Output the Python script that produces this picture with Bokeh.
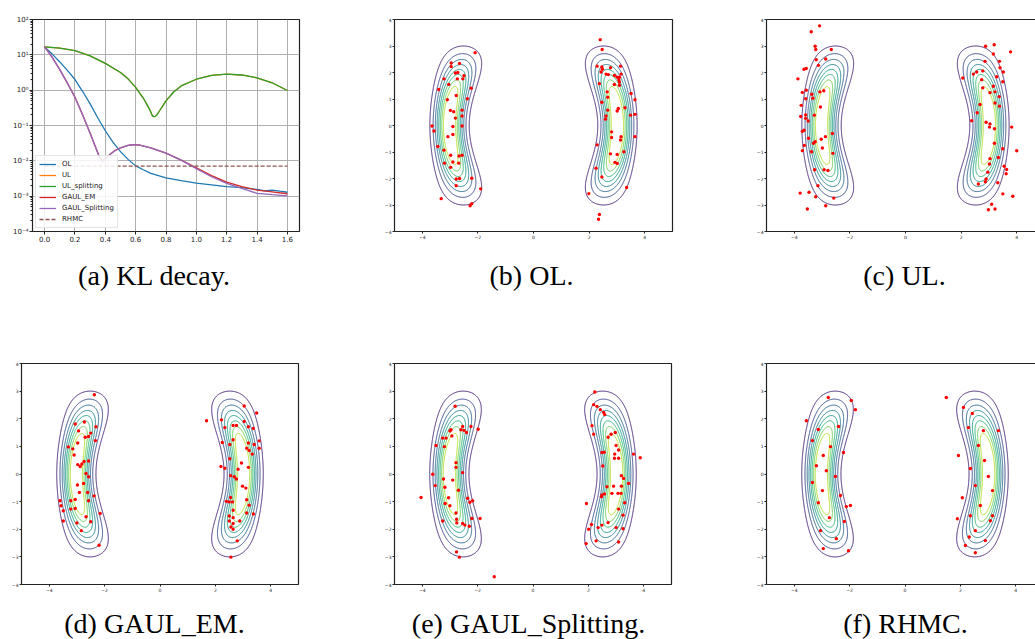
import numpy as np
from bokeh.plotting import figure
from bokeh.layouts import column, row
from bokeh.models import Range1d, FixedTicker, CustomJSTickFormatter, Legend, LegendItem, LinearAxis
from bokeh.core.properties import value
from bokeh.palettes import Viridis256
from bokeh.embed import file_html
from bokeh.resources import INLINE

# ---------------- panel (a): KL decay ----------------
ol_t = [0, 0.05, 0.1, 0.15, 0.2, 0.25, 0.3, 0.35, 0.4, 0.45, 0.5, 0.55, 0.6, 0.65, 0.7, 0.8, 0.9,
        1.0, 1.1, 1.2, 1.3, 1.4, 1.45, 1.5, 1.55, 1.6]
ol_kl = [16.8, 10.5, 6.3, 3.63, 2.0, 0.93, 0.41, 0.166, 0.071, 0.034, 0.0182, 0.0110, 0.0072, 0.0056,
         0.0044, 0.0033, 0.00275, 0.00234, 0.00209, 0.00186, 0.00174, 0.00155, 0.00141, 0.00148,
         0.00138, 0.00129]
ul_t = [0, 0.1, 0.2, 0.3, 0.4, 0.5, 0.55, 0.6, 0.65, 0.68, 0.7, 0.71, 0.72, 0.73, 0.74, 0.76, 0.8,
        0.85, 0.9, 1.0, 1.1, 1.2, 1.3, 1.4, 1.5, 1.6]
ul_kl = [16.8, 15.5, 13.2, 9.3, 5.75, 3.16, 2.09, 1.20, 0.60, 0.355, 0.24, 0.19, 0.178, 0.182, 0.20,
         0.27, 0.50, 0.89, 1.32, 2.04, 2.63, 2.85, 2.69, 2.24, 1.62, 0.98]
uls_kl = [16.8, 15.5, 13.2, 9.3, 5.75, 3.16, 2.09, 1.20, 0.60, 0.355, 0.24, 0.19, 0.178, 0.182, 0.20,
          0.27, 0.50, 0.89, 1.32, 2.04, 2.63, 2.85, 2.69, 2.24, 1.62, 0.98]
gaul_t = [0, 0.05, 0.1, 0.15, 0.2, 0.25, 0.3, 0.33, 0.36, 0.38, 0.4, 0.43, 0.46, 0.5, 0.55, 0.58,
          0.62, 0.7, 0.8, 0.9, 1.0, 1.1, 1.2, 1.3, 1.4, 1.5, 1.6]
gaul_em_kl = [16.8, 8.5, 3.8, 1.58, 0.63, 0.2, 0.060, 0.028, 0.0132, 0.0100, 0.0112, 0.0151, 0.0191,
              0.0234, 0.0275, 0.0285, 0.0282, 0.0234, 0.0166, 0.0105, 0.0063, 0.0038, 0.0025,
              0.00186, 0.00148, 0.00132, 0.00117]
gaul_sp_kl = [16.8, 8.5, 3.8, 1.58, 0.63, 0.2, 0.060, 0.028, 0.0130, 0.0095, 0.0110, 0.0150, 0.0190,
              0.0234, 0.0275, 0.0285, 0.0282, 0.0234, 0.0166, 0.0105, 0.0060, 0.00355, 0.00229,
              0.00166, 0.0012, 0.0011, 0.00102]
rhmc_t = [0, 1.6]
rhmc_kl = [0.0071, 0.0071]
a_xticks = [0, 0.2, 0.4, 0.6, 0.8, 1.0, 1.2, 1.4, 1.6]
a_yticks = [1e-4, 1e-3, 1e-2, 1e-1, 1e0, 1e1, 1e2]

# ---------------- sample scatter points (b)-(f) ----------------
b_x = [-2.10, -2.96, -2.66, -2.96, -3.22, -2.81, -2.72, -2.50, -2.74, -2.54, -3.41, -3.05, -2.24,
       -3.10, -2.38, -2.78, -2.99, -2.87, -2.57, -2.81, -2.57, -3.65, -3.58, -2.57, -2.90, -3.08,
       -2.90, -3.44, -3.22, -2.98, -2.57, -2.68, -3.20, -2.90, -2.69, -2.98, -2.22, -2.78, -2.66,
       -2.78, -1.90, -3.32, -2.22, -2.28,
       2.40, 2.47, 2.29, 2.46, 2.48, 2.43, 3.13, 2.77, 2.61, 2.69, 2.91, 3.01, 3.15, 3.09, 3.07,
       3.09, 2.37, 2.91, 3.09, 3.51, 3.65, 2.65, 2.67, 2.46, 2.67, 3.05, 3.01, 3.29, 2.61, 2.59,
       3.65, 3.49, 2.81, 2.81, 3.15, 3.13, 3.65, 2.29, 2.77, 3.01, 3.25, 2.93, 3.01, 2.25, 2.46,
       1.99, 3.35, 2.37, 2.34]
b_y = [2.75, 2.36, 2.34, 2.22, 1.76, 1.98, 2.00, 1.88, 1.76, 1.76, 1.36, 1.55, 1.41, 0.97, 1.01,
       1.13, 0.57, 0.52, 0.58, 0.28, 0.36, -0.02, -0.21, -0.02, -0.04, -0.42, -0.34, -0.79, -0.93,
       -1.12, -1.12, -1.15, -1.42, -1.38, -1.42, -1.58, -1.99, -2.02, -2.00, -2.27, -2.39, -2.76,
       -2.95, -3.03,
       3.24, 2.87, 2.24, 2.21, 2.12, 2.02, 2.24, 2.18, 1.94, 1.92, 1.89, 1.82, 1.94, 1.82, 1.72,
       1.64, 1.58, 1.55, 1.52, 1.21, 0.97, 1.27, 1.07, 0.88, 0.58, 0.64, 0.55, 0.67, 0.36, 0.24,
       0.42, 0.39, -0.24, -0.45, -0.42, -0.55, -0.42, -0.73, -1.07, -1.09, -0.99, -1.39, -1.43,
       -1.61, -1.94, -2.57, -2.34, -3.36, -3.54]

c_x = [-3.09, -3.39, -3.25, -3.23, -2.67, -3.21, -2.87, -3.13, -3.65, -3.57, -3.87, -2.94, -3.08,
       -3.71, -3.57, -3.37, -3.33, -3.59, -3.75, -3.06, -3.59, -3.28, -3.77, -3.59, -3.50, -3.65,
       -3.71, -3.49, -2.88, -3.03, -3.25, -3.31, -2.63, -2.61, -3.64, -3.71, -2.99, -3.38, -3.27,
       -2.93, -2.79, -3.15, -3.79, -3.47, -3.23, -2.58, -3.53, -2.87,
       2.88, 3.19, 3.16, 2.86, 3.38, 3.40, 3.52, 3.28, 3.50, 2.06, 2.44, 2.56, 2.78, 2.74, 2.78,
       3.16, 3.04, 3.22, 3.37, 3.22, 3.38, 2.68, 2.58, 2.38, 2.90, 3.04, 3.02, 3.20, 3.82, 3.20,
       3.50, 4.00, 3.04, 3.34, 3.02, 3.55, 3.64, 3.62, 2.96, 2.90, 2.87, 3.32, 2.62, 3.50, 3.86,
       3.10, 2.98, 3.22, 3.78]
c_y = [3.76, 3.54, 2.99, 2.87, 2.87, 2.48, 2.51, 2.27, 2.12, 2.15, 1.76, 1.31, 1.27, 1.25, 1.33,
       1.18, 1.03, 1.01, 0.76, 0.70, 0.40, 0.39, 0.34, 0.27, 0.17, -0.18, -0.22, -0.48, -0.42,
       -0.52, -0.61, -0.67, -0.30, -1.05, -0.75, -0.95, -0.85, -0.99, -1.67, -1.67, -1.70, -2.27,
       -2.55, -2.52, -2.69, -2.74, -3.15, -3.03,
       2.99, 3.05, 2.70, 2.42, 2.42, 2.18, 2.02, 1.84, 1.65, 1.79, 1.94, 2.02, 2.06, 1.73, 1.42,
       1.48, 1.24, 1.27, 1.09, 0.85, 0.73, 0.79, 0.48, 0.18, 0.12, 0.06, -0.06, -0.12, -0.06,
       -0.67, -0.88, -0.95, -1.25, -1.21, -1.45, -1.54, -1.66, -1.82, -1.76, -2.02, -2.12, -2.16,
       -2.21, -2.58, -2.67, -2.97, -3.18, -3.15, 2.78]

d_x = [-2.37, -2.73, -3.06, -2.31, -2.94, -2.50, -2.70, -2.58, -2.33, -3.31, -2.97, -3.15, -3.10,
       -2.74, -2.82, -2.58, -2.97, -2.88, -2.67, -2.58, -2.76, -2.98, -2.38, -2.91, -2.61, -3.61,
       -3.57, -3.22, -3.06, -2.58, -3.49, -3.22, -3.06, -3.49, -3.00, -2.67, -2.50, -2.84, -2.16,
       -2.20,
       1.68, 2.22, 3.04, 3.49, 2.34, 2.64, 2.76, 3.04, 3.19, 3.37, 2.25, 2.64, 3.19, 3.40, 3.58,
       3.58, 2.52, 3.13, 3.22, 3.33, 2.94, 2.20, 2.34, 2.52, 3.19, 2.82, 2.68, 2.76, 2.55, 2.98,
       3.10, 2.40, 2.50, 2.62, 2.55, 3.13, 3.22, 3.13, 3.37, 2.64, 2.50, 2.50, 2.64, 2.88, 2.64,
       2.56, 2.64, 2.79, 2.56]
d_y = [2.87, 1.88, 1.81, 1.71, 1.56, 1.48, 1.33, 1.36, 1.21, 0.98, 1.12, 0.91, 0.69, 0.45, 0.36,
       0.47, 0.34, 0.27, 0.02, -0.10, -0.34, -0.40, -0.79, -0.67, -0.67, -0.97, -1.15, -0.97,
       -0.92, -0.97, -1.33, -1.27, -1.25, -1.70, -1.77, -1.55, -1.73, -2.05, -1.43, -2.58,
       1.93, 1.96, 2.46, 2.21, 1.68, 1.76, 1.76, 1.90, 1.71, 1.65, 1.14, 1.24, 1.12, 1.07, 1.20,
       0.93, 1.07, 0.93, 0.85, 0.72, 0.40, 0.27, 0.21, 0.55, 0.24, 0.17, -0.10, -0.18, -0.06,
       -0.44, -0.51, -0.99, -1.01, -1.01, -0.85, -0.93, -1.13, -1.41, -1.45, -1.31, -1.52, -1.70,
       -1.79, -1.70, -1.58, -1.92, -2.00, -2.42, -3.01]

e_x = [-2.81, -2.96, -3.26, -3.00, -2.60, -2.54, -2.24, -1.98, -2.40, -2.49, -3.14, -2.93, -3.50,
       -3.20, -2.78, -2.78, -2.54, -3.62, -2.90, -3.23, -3.53, -3.18, -2.69, -4.04, -3.05, -3.00,
       -2.36, -2.28, -2.18, -3.17, -2.78, -3.26, -2.76, -2.75, -2.54, -2.46, -2.30, -2.21, -1.91,
       -2.76, -2.66, -1.40,
       2.23, 2.19, 2.31, 2.43, 2.55, 2.59, 2.13, 2.19, 2.71, 2.82, 2.97, 3.09, 3.00, 2.95, 2.94,
       3.09, 2.49, 2.57, 2.52, 3.19, 3.27, 3.45, 3.19, 2.67, 2.85, 2.49, 2.91, 3.07, 3.18, 3.31,
       3.09, 3.25, 2.71, 2.49, 2.11, 1.93, 2.35, 3.00, 3.25, 2.01, 2.28, 1.92, 3.09, 3.63, 3.87,
       2.47, 2.58]
e_y = [2.45, 1.60, 1.30, 1.56, 1.60, 1.72, 1.72, 1.62, 1.50, 1.58, 1.30, 1.38, 1.03, 0.99, 0.41,
       0.24, 0.05, -0.01, -0.22, -0.18, -0.42, -0.48, -0.59, -0.85, -0.86, -1.15, -0.88, -1.02,
       -0.97, -1.07, -1.41, -1.70, -1.64, -1.77, -1.79, -1.85, -1.89, -1.61, -1.61, -2.82, -3.01,
       -3.72,
       2.97, 2.51, 2.45, 2.33, 2.23, 2.15, 1.75, 1.44, 1.33, 1.44, 1.50, 0.87, 1.03, 0.72, 0.57,
       0.57, 0.78, 0.79, 0.29, -0.06, -0.16, -0.34, -0.44, -0.46, -0.70, -0.76, -0.44, -0.70,
       -0.70, -1.04, -1.27, -1.49, -1.76, -1.85, -1.83, -1.07, -1.94, -1.94, -1.98, -2.00, -2.42,
       -2.52, -2.46, 0.72, 0.59, -0.82, -0.72]

f_x = [-2.77, -1.94, -1.79, -3.56, -3.13, -2.40, -3.34, -2.69, -2.95, -2.22, -3.20, -2.84, -2.51,
       -3.34, -2.98, -2.33, -3.13, -2.12, -2.73, -2.19, -3.05, -2.48, -2.95, -2.04, -1.97,
       1.49, 2.11, 2.43, 2.29, 2.83, 2.65, 1.93, 2.87, 2.36, 3.01, 2.54, 3.16, 2.07, 2.72, 2.36,
       3.08, 1.89, 2.54, 2.90, 2.18, 2.54, 2.32, 3.37, 3.16]
f_y = [2.77, 2.66, 2.33, 1.93, 1.61, 1.72, 1.21, 0.99, 0.67, 0.78, 0.30, 0.12, -0.09, -0.31,
       -0.60, -0.78, -1.04, -1.18, -1.58, -1.72, -2.05, -2.34, -2.70, -2.78, -1.14,
       2.77, 2.41, 2.19, 1.68, 1.57, 1.03, 0.67, 0.49, 0.20, -0.09, -0.42, -0.60, -0.86, -1.14,
       -1.51, -1.69, -1.62, -2.05, -2.41, -2.59, -2.85, -2.28, 1.57, -1.51]

pt_ticks = [-4, -3, -2, -1, 0, 1, 2, 3, 4]
pt_xticks = [-4, -2, 0, 2, 4]

captions_top = ["(a) KL decay.", "(b) OL.", "(c) UL."]
captions_bottom = ["(d) GAUL_EM.", "(e) GAUL_Splitting.", "(f) RHMC."]

# target density (two mirrored crescent-shaped modes) used for the contour lines
DEN_A, DEN_B, DEN_C, DEN_S = 4.6, 0.055, 0.0223, 0.07
DEN_M0, DEN_M2, DEN_M4 = 3.02, 0.105, 0.0055
gx = np.linspace(-5, 5, 501)
gy = np.linspace(-4, 4, 401)
GX, GY = np.meshgrid(gx, gy)
GM = DEN_M0 - DEN_M2 * GY ** 2 + DEN_M4 * GY ** 4
GW = 1 + DEN_S * GY ** 2
GZ = np.exp(-DEN_A * ((np.abs(GX) - GM) / GW) ** 2 - DEN_B * GY ** 2 - DEN_C * GY ** 4)
levels = [0.1, 0.2, 0.3, 0.4, 0.5, 0.6, 0.7, 0.8]
lev_colors = [Viridis256[int(round(k / 9 * 255))] for k in range(1, 9)]

FONT = "DejaVu Sans"
CAP_FONT = "Liberation Serif"

minus_fmt = CustomJSTickFormatter(code="return (tick < 0 ? '\u2212' : '') + Math.abs(tick).toString();")
log_fmt = CustomJSTickFormatter(code="""
const e = Math.round(Math.log10(tick));
const m = {'0':'\u2070','1':'\u00b9','2':'\u00b2','3':'\u00b3','4':'\u2074','5':'\u2075',
           '6':'\u2076','7':'\u2077','8':'\u2078','9':'\u2079','-':'\u207b'};
let s = '';
for (const c of String(e)) { s += m[c]; }
return '10' + s;
""")
dec_fmt = CustomJSTickFormatter(code="return tick.toFixed(1);")


def base_fig(w, h, l, r, t, b, xr, yr, **kw):
    p = figure(width=w, height=h, x_range=xr, y_range=yr, output_backend="svg",
               toolbar_location=None, min_border_left=l, min_border_right=r,
               min_border_top=t, min_border_bottom=b, **kw)
    p.background_fill_color = "white"
    p.border_fill_color = "white"
    return p


def style_axis(ax, fsize, tick_len):
    ax.major_label_text_font = FONT
    ax.major_label_text_font_size = fsize
    ax.major_label_text_color = "#222222"
    ax.major_tick_in = 0
    ax.major_tick_out = tick_len
    ax.major_tick_line_color = "#222222"
    ax.minor_tick_line_color = None
    ax.major_label_standoff = 1


def caption_fig(w, h, xs, y, texts):
    p = figure(width=w, height=h, x_range=Range1d(0, w), y_range=Range1d(0, h),
               output_backend="svg", toolbar_location=None, x_axis_type=None, y_axis_type=None,
               min_border=0)
    p.outline_line_color = None
    p.grid.visible = False
    p.text(x=xs, y=[y] * len(xs), text=texts, text_font=value(CAP_FONT), text_font_size="28px",
           text_color="black", text_align="center", text_baseline="alphabetic")
    return p


# ---- panel (a)
pa = base_fig(345, 250, 32, 46, 19, 19, Range1d(-0.08, 1.68), Range1d(1e-4, 1e2), y_axis_type="log")
pa.outline_line_color = "#222222"
pa.outline_line_width = 1.2
pa.xaxis.ticker = FixedTicker(ticks=a_xticks)
pa.xaxis.formatter = dec_fmt
minor = [m * 10.0 ** k for k in range(-4, 2) for m in range(2, 10)]
pa.yaxis.ticker = FixedTicker(ticks=a_yticks, minor_ticks=minor)
pa.yaxis.formatter = log_fmt
for ax in (pa.xaxis[0], pa.yaxis[0]):
    style_axis(ax, "7px", 3)
    ax.axis_line_color = None
pa.yaxis.minor_tick_line_color = "#222222"
pa.yaxis.minor_tick_out = 2
pa.yaxis.minor_tick_in = 0
pa.grid.grid_line_color = "#b0b0b0"
pa.grid.grid_line_width = 1

r_ol = pa.line(ol_t, ol_kl, line_color="#1f77b4", line_width=1.3)
r_ul = pa.line(ul_t, ul_kl, line_color="#ff7f0e", line_width=1.3)
r_uls = pa.line(ul_t, uls_kl, line_color="#2ca02c", line_width=1.3)
r_em = pa.line(gaul_t, gaul_em_kl, line_color="#d62728", line_width=1.3)
r_sp = pa.line(gaul_t, gaul_sp_kl, line_color="#9467bd", line_width=1.3)
r_rh = pa.line(rhmc_t, rhmc_kl, line_color="#8c564b", line_width=1.3, line_dash="4 2")
leg = Legend(items=[LegendItem(label="OL", renderers=[r_ol]),
                    LegendItem(label="UL", renderers=[r_ul]),
                    LegendItem(label="UL_splitting", renderers=[r_uls]),
                    LegendItem(label="GAUL_EM", renderers=[r_em]),
                    LegendItem(label="GAUL_Splitting", renderers=[r_sp]),
                    LegendItem(label="RHMC", renderers=[r_rh])],
             location="bottom_left")
leg.label_text_font = FONT
leg.label_text_font_size = "7px"
leg.label_text_color = "#222222"
leg.glyph_width = 17
leg.glyph_height = 10
leg.label_height = 10
leg.label_standoff = 6
leg.spacing = 1
leg.padding = 3
leg.margin = 3
leg.border_line_color = "#cccccc"
leg.background_fill_alpha = 0.85
pa.add_layout(leg)


def sample_panel(w, h, l, r, t, b, xmax, xs, ys, open_right=False):
    p = base_fig(w, h, l, r, t, b, Range1d(-5, xmax), Range1d(-4, 4))
    p.grid.visible = False
    p.xaxis.ticker = FixedTicker(ticks=pt_xticks)
    p.yaxis.ticker = FixedTicker(ticks=pt_ticks)
    p.xaxis.formatter = minus_fmt
    p.yaxis.formatter = minus_fmt
    for ax in (p.xaxis[0], p.yaxis[0]):
        style_axis(ax, "4.5px", 2)
    if open_right:
        p.outline_line_color = None
        for ax in (p.xaxis[0], p.yaxis[0]):
            ax.axis_line_color = "#222222"
            ax.axis_line_width = 1.2
        top = LinearAxis(ticker=FixedTicker(ticks=[]), axis_line_color="#222222",
                         axis_line_width=1.2, major_label_text_font_size="0px")
        p.add_layout(top, "above")
    else:
        for ax in (p.xaxis[0], p.yaxis[0]):
            ax.axis_line_color = None
        p.outline_line_color = "#222222"
        p.outline_line_width = 1.2
    p.contour(GX, GY, GZ, levels=levels, line_color=lev_colors, line_width=1.0)
    p.scatter(xs, ys, size=3.4, marker="circle", fill_color="#ff0000", line_color=None)
    return p


pb = sample_panel(375, 250, 49, 48, 13, 17, 5, b_x, b_y)
pc = sample_panel(315, 250, 46, 0, 13, 17, -5 + 269 / 27.8, c_x, c_y, open_right=True)
pd = sample_panel(345, 265, 21, 47, 33, 11, 5, d_x, d_y)
pe = sample_panel(375, 265, 49, 49, 33, 11, 5, e_x, e_y)
pf = sample_panel(315, 265, 46, 0, 33, 11, -5 + 269 / 27.7, f_x, f_y, open_right=True)

cap_a = caption_fig(345, 80, [154], 55, captions_top[:1])
cap_b = caption_fig(375, 80, [186], 55, captions_top[1:2])
cap_c = caption_fig(315, 80, [184], 55, captions_top[2:])
cap_d = caption_fig(345, 44, [154], 16, captions_bottom[:1])
cap_e = caption_fig(375, 44, [183], 16, captions_bottom[1:2])
cap_f = caption_fig(315, 44, [185], 16, captions_bottom[2:])

layout = column(row(pa, pb, pc, spacing=0), row(cap_a, cap_b, cap_c, spacing=0),
                row(pd, pe, pf, spacing=0), row(cap_d, cap_e, cap_f, spacing=0), spacing=0)
open("out.html", "w").write(file_html(layout, INLINE))
